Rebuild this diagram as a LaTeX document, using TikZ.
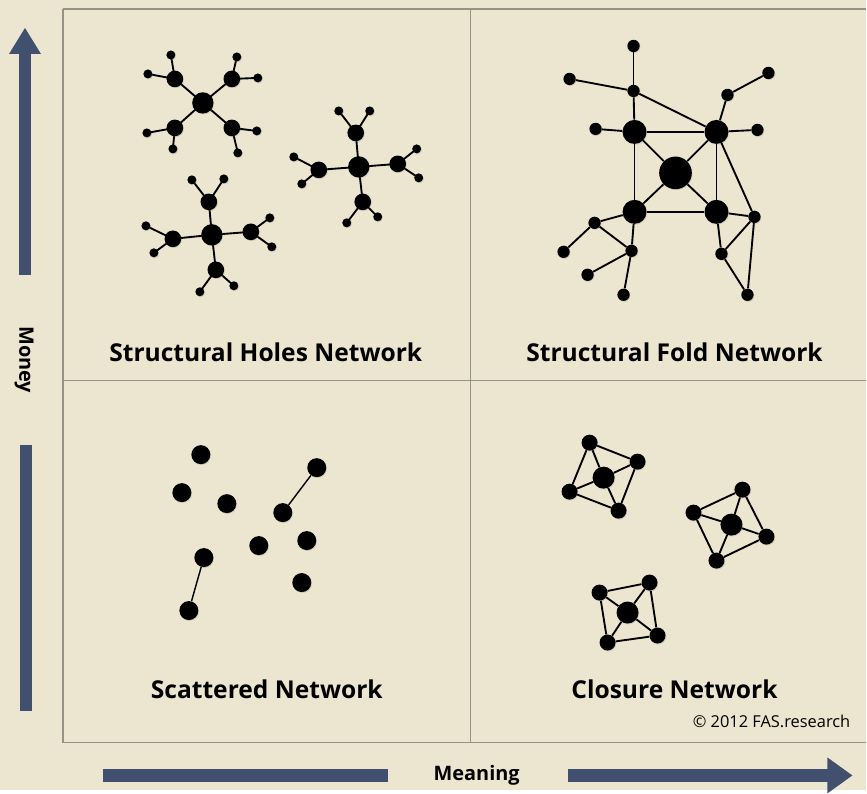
\documentclass[tikz,border=0pt]{standalone}
\usepackage{fontspec}
\setmainfont{Open Sans}
\usetikzlibrary{shadows}
\definecolor{paper}{RGB}{236,229,207}
\definecolor{rule}{RGB}{150,146,134}
\definecolor{slate}{RGB}{64,80,110}
\begin{document}
\begin{tikzpicture}[x=0.03cm,y=-0.03cm,
    dot/.style={circle,fill=black,inner sep=0pt,
      drop shadow={opacity=0.25,shadow xshift=0.6pt,shadow yshift=-0.8pt}},
    hub/.style={dot,minimum size=0.64cm},
    mid/.style={dot,minimum size=0.5cm},
    leaf/.style={dot,minimum size=0.27cm},
    core/.style={dot,minimum size=0.98cm},
    knot/.style={dot,minimum size=0.72cm},
    tip/.style={dot,minimum size=0.37cm},
    lone/.style={dot,minimum size=0.57cm},
    cen/.style={dot,minimum size=0.66cm},
    rim/.style={dot,minimum size=0.48cm},
    title/.style={font=\bfseries\fontsize{21}{23}\selectfont},
    axis/.style={font=\bfseries\fontsize{17}{19}\selectfont},
    bar/.style={slate,line width=0.38cm},
    link/.style={line width=1.6pt}]
  \fill[paper] (0,0) rectangle (867,791);
  % frame
  \begin{scope}[rule,line width=1.1pt]
    \draw (63,9) -- (867,9);
    \draw (63,9) -- (63,743) -- (867,743);
    \draw (471,9) -- (471,743);
    \draw (63,381) -- (867,381);
  \end{scope}
  % axes
  \draw[bar] (25,275) -- (25,52);
  \fill[slate] (9,54) -- (25,28) -- (41,54) -- cycle;
  \draw[bar] (26,445) -- (26,712);
  \node[axis,rotate=-90] (money) at (24,360) {Money};
  \draw[bar] (103,776) -- (388,776);
  \draw[bar] (568,776) -- (830,776);
  \fill[slate] (828,758) -- (853,776) -- (828,794) -- cycle;
  \node[axis] (meaning) at (477,776) {Meaning};
  % titles
  \node[title] (holes) at (266,353) {Structural Holes Network};
  \node[title] (fold) at (675,353) {Structural Fold Network};
  \node[title] (scatter) at (267,690) {Scattered Network};
  \node[title] (closure) at (675,690) {Closure Network};
  \node[anchor=east,font=\fontsize{14}{16}\selectfont] (copy) at (855,722) {\textcopyright{} 2012 FAS.research};
  % structural holes: three stars
  \begin{scope}[link]
    \draw (203,103) coordinate (a) (175,79) coordinate (a1) (232,79) coordinate (a2)
          (175,128) coordinate (a3) (232,128) coordinate (a4);
    \draw (a) -- (a1) (a) -- (a2) (a) -- (a3) (a) -- (a4);
    \draw (a1) -- (171,55) coordinate (a11) (a1) -- (148,74) coordinate (a12)
          (a2) -- (237,57) coordinate (a21) (a2) -- (258,78) coordinate (a22)
          (a3) -- (147,133) coordinate (a31) (a3) -- (173,149) coordinate (a32)
          (a4) -- (257,131) coordinate (a41) (a4) -- (238,153) coordinate (a42);
    \draw (359,167) coordinate (b) (356,133) coordinate (b1) (398,164) coordinate (b2)
          (319,170) coordinate (b3) (363,202) coordinate (b4);
    \draw (b) -- (b1) (b) -- (b2) (b) -- (b3) (b) -- (b4);
    \draw (b1) -- (339,111) coordinate (b11) (b1) -- (370,111) coordinate (b12)
          (b2) -- (417,149) coordinate (b21) (b2) -- (419,178) coordinate (b22)
          (b3) -- (294,157) coordinate (b31) (b3) -- (302,184) coordinate (b32)
          (b4) -- (347,223) coordinate (b41) (b4) -- (378,217) coordinate (b42);
    \draw (212,235) coordinate (c) (209,202) coordinate (c1) (173,239) coordinate (c2)
          (251,232) coordinate (c3) (216,270) coordinate (c4);
    \draw (c) -- (c1) (c) -- (c2) (c) -- (c3) (c) -- (c4);
    \draw (c1) -- (192,180) coordinate (c11) (c1) -- (224,179) coordinate (c12)
          (c2) -- (146,226) coordinate (c21) (c2) -- (154,253) coordinate (c22)
          (c3) -- (270,218) coordinate (c31) (c3) -- (272,247) coordinate (c32)
          (c4) -- (200,292) coordinate (c41) (c4) -- (234,286) coordinate (c42);
  \end{scope}
  \foreach \s in {a,b,c} {
    \node[hub] (\s h) at (\s) {};
    \foreach \k in {1,2,3,4} {
      \node[mid] (\s m\k) at (\s\k) {};
      \node[leaf] (\s l\k1) at (\s\k1) {};
      \node[leaf] (\s l\k2) at (\s\k2) {};
    }
  }
  % structural fold
  \draw
    (676,173) node[core] (f0){}
    (635,132) node[knot] (f1){}
    (717,132) node[knot] (f2){}
    (635,212) node[knot] (f3){}
    (717,212) node[knot] (f4){}
    (634,46) node[tip] (t1){}
    (634,91) node[tip] (t2){}
    (570,79) node[tip] (t3){}
    (728,95) node[tip] (t4){}
    (769,73) node[tip] (t5){}
    (596,129) node[tip] (t6){}
    (758,130) node[tip] (t7){}
    (755,217) node[tip] (t8){}
    (722,254) node[tip] (t9){}
    (748,295) node[tip] (t10){}
    (595,223) node[tip] (t11){}
    (564,252) node[tip] (t12){}
    (632,251) node[tip] (t13){}
    (588,275) node[tip] (t14){}
    (624,295) node[tip] (t15){};
  \begin{scope}[link]
    \draw (f0) to (f1);
    \draw (f0) to (f2);
    \draw (f0) to (f3);
    \draw (f0) to (f4);
    \draw (f1) to (f2);
    \draw (f1) to (f3);
    \draw (f2) to (f4);
    \draw (f3) to (f4);
    \draw (t1) to (t2);
    \draw (t3) to (t2);
    \draw (t2) to (f1);
    \draw (t2) to (f2);
    \draw (t4) to (t5);
    \draw (t4) to (f2);
    \draw (f1) to (t6);
    \draw (f2) to (t7);
    \draw (f2) to (t8);
    \draw (f4) to (t8);
    \draw (f4) to (t9);
    \draw (t8) to (t9);
    \draw (t8) to (t10);
    \draw (t9) to (t10);
    \draw (f3) to (t11);
    \draw (t11) to (t12);
    \draw (t11) to (t13);
    \draw (f3) to (t13);
    \draw (t13) to (t14);
    \draw (t13) to (t15);
  \end{scope}
  % scattered
  \draw
    (201,455) node[lone] (s1){}
    (182,493) node[lone] (s2){}
    (227,504) node[lone] (s3){}
    (317,468) node[lone] (s4){}
    (283,513) node[lone] (s5){}
    (259,546) node[lone] (s6){}
    (307,541) node[lone] (s7){}
    (204,558) node[lone] (s8){}
    (189,611) node[lone] (s9){}
    (302,583) node[lone] (s10){};
  \begin{scope}[link,line width=1.2pt]
    \draw (s4) to (s5);
    \draw (s8) to (s9);
  \end{scope}
  % closure: three cliques
  \draw
    (604,478) node[cen] (p0){}
    (590,443) node[rim] (p1){}
    (638,462) node[rim] (p2){}
    (619,511) node[rim] (p3){}
    (570,492) node[rim] (p4){}
    (732,525) node[cen] (q0){}
    (743,490) node[rim] (q1){}
    (767,537) node[rim] (q2){}
    (717,561) node[rim] (q3){}
    (694,513) node[rim] (q4){}
    (628,613) node[cen] (r0){}
    (650,583) node[rim] (r1){}
    (658,636) node[rim] (r2){}
    (608,643) node[rim] (r3){}
    (600,593) node[rim] (r4){};
  \begin{scope}[link]
    \foreach \g in {p,q,r} {
      \draw (\g1) to (\g2);
      \draw (\g2) to (\g3);
      \draw (\g3) to (\g4);
      \draw (\g4) to (\g1);
      \foreach \k in {1,2,3,4}
        \draw (\g0) to (\g\k);
    }
  \end{scope}
\end{tikzpicture}
\end{document}
